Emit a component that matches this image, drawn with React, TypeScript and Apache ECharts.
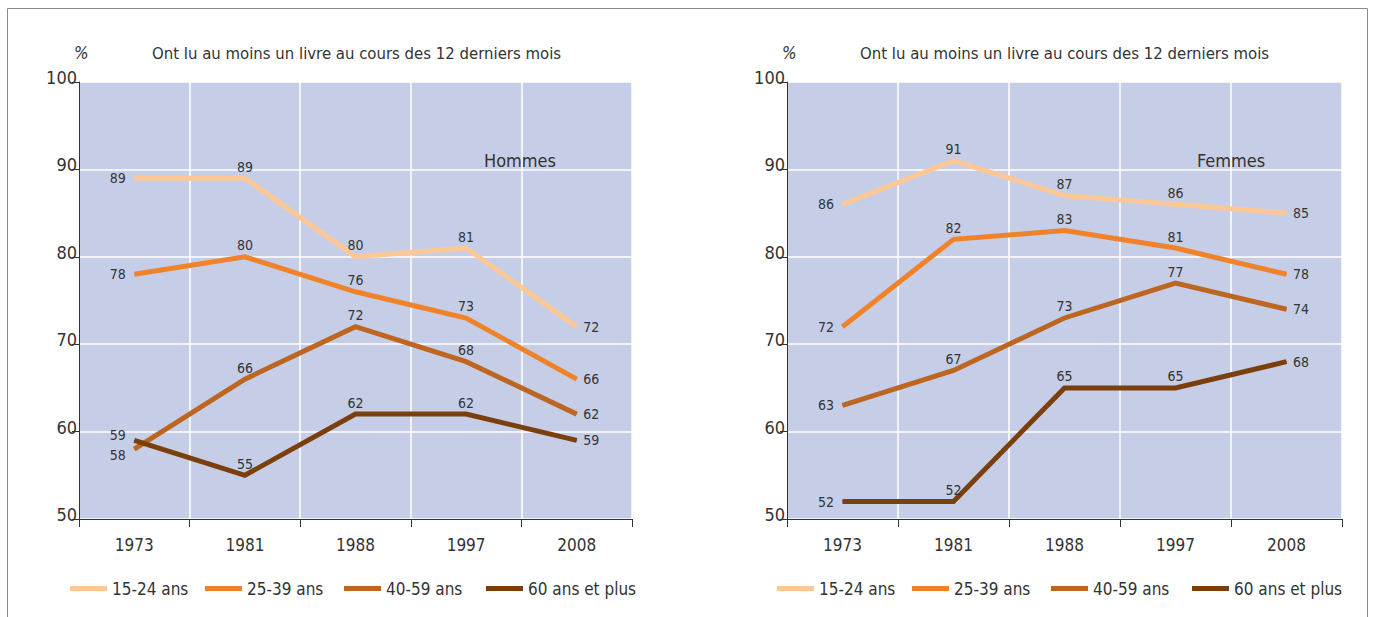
import React, { useEffect, useRef } from "react";
import * as echarts from "echarts";

const years = ["1973", "1981", "1988", "1997", "2008"];
const groups = ["15-24 ans", "25-39 ans", "40-59 ans", "60 ans et plus"];

const hommes15_24 = [89, 89, 80, 81, 72];
const hommes25_39 = [78, 80, 76, 73, 66];
const hommes40_59 = [58, 66, 72, 68, 62];
const hommes60 = [59, 55, 62, 62, 59];

const femmes15_24 = [86, 91, 87, 86, 85];
const femmes25_39 = [72, 82, 83, 81, 78];
const femmes40_59 = [63, 67, 73, 77, 74];
const femmes60 = [52, 52, 65, 65, 68];

const yTicks = [50, 60, 70, 80, 90, 100];

const titleText = "Ont lu au moins un livre au cours des 12 derniers mois";
const panelNames = ["Hommes", "Femmes"];

const COLORS = ["#fdc896", "#f0832a", "#bd6622", "#7a3f0a"];
const FONT = "'DejaVu Sans Condensed', 'Liberation Sans Narrow', sans-serif";
const TXT = "#333333";

export default function App() {
  const ref = useRef<HTMLDivElement>(null);

  useEffect(() => {
    if (!ref.current) return;
    const chart = echarts.init(ref.current, undefined, { renderer: "svg" });

    const panels = [
      { data: [hommes15_24, hommes25_39, hommes40_59, hommes60], nudge: [0, 0, 6, -5] },
      { data: [femmes15_24, femmes25_39, femmes40_59, femmes60], nudge: [0, 0, 0, 0] },
    ];
    const gridLefts = [79, 787];
    const gridWidths = [553, 555];
    const legendLefts = [
      [70, 205, 344, 486],
      [777, 912, 1051, 1192],
    ];

    const series: any[] = [];
    panels.forEach((p, pi) => {
      p.data.forEach((vals, si) => {
        series.push({
          type: "line",
          name: groups[si],
          xAxisIndex: pi,
          yAxisIndex: pi,
          symbol: "circle",
          symbolSize: 1,
          showSymbol: true,
          itemStyle: { color: COLORS[si] },
          lineStyle: { color: COLORS[si], width: 5, join: "miter", cap: "butt" },
          data: vals.map((v, i) => {
            const n = vals.length;
            let label: any;
            if (i === 0) label = { position: "left", distance: 8, offset: [0, p.nudge[si]] };
            else if (i === n - 1) label = { position: "right", distance: 6 };
            else label = { position: "top", distance: 4 };
            return { value: v, label };
          }),
          label: { show: true, fontSize: 14, color: TXT, fontFamily: FONT },
          emphasis: { disabled: true },
          z: 3,
        });
      });
    });

    const grids = gridLefts.map((l, i) => ({
      left: l,
      top: 82,
      width: gridWidths[i],
      height: 437,
      show: true,
      backgroundColor: "#c6cee7",
      borderWidth: 0,
      containLabel: false,
    }));

    const xAxes = [0, 1].map((i) => ({
      type: "category",
      gridIndex: i,
      data: years,
      boundaryGap: true,
      axisLine: { show: true, lineStyle: { color: "#333", width: 1 } },
      axisTick: { show: true, length: 8, lineStyle: { color: "#333" } },
      axisLabel: { fontSize: 17, color: TXT, fontFamily: FONT, margin: 17 },
      splitLine: { show: true, lineStyle: { color: "#ffffff", width: 1.5 } },
    }));

    const yAxes = [0, 1].map((i) => ({
      type: "value",
      gridIndex: i,
      min: yTicks[0],
      max: yTicks[yTicks.length - 1],
      interval: 10,
      axisLine: { show: true, lineStyle: { color: "#333", width: 1 } },
      axisTick: { show: true, length: 7, lineStyle: { color: "#333" } },
      axisLabel: {
        fontSize: 18,
        color: TXT,
        fontFamily: FONT,
        margin: 2,
        verticalAlign: "bottom",
        lineHeight: 9,
      },
      splitLine: { show: true, lineStyle: { color: "#ffffff", width: 1.5 } },
    }));

    const legends: any[] = [];
    legendLefts.forEach((row) => {
      row.forEach((l, gi) => {
        legends.push({
          left: l,
          top: 580,
          padding: 0,
          icon: "rect",
          itemWidth: 37,
          itemHeight: 5,
          itemGap: 0,
          data: [groups[gi]],
          textStyle: { fontSize: 17, color: TXT, fontFamily: FONT },
          selectedMode: false,
        });
      });
    });

    const graphic: any[] = [
      {
        type: "rect",
        shape: { x: 7.5, y: 8.5, width: 1360, height: 640 },
        style: { fill: "none", stroke: "#8a8a8a", lineWidth: 1 },
        silent: true,
      },
    ];
    [0, 1].forEach((i) => {
      const gl = gridLefts[i];
      graphic.push({
        type: "text",
        x: gl - 5,
        y: 53,
        style: {
          text: "%",
          fontSize: 17,
          fontStyle: "italic",
          fill: TXT,
          fontFamily: FONT,
          verticalAlign: "middle",
        },
      });
      graphic.push({
        type: "text",
        x: gl + 73,
        y: 53,
        style: { text: titleText, fontSize: 16.6, fill: TXT, fontFamily: FONT, verticalAlign: "middle" },
      });
      graphic.push({
        type: "text",
        x: gl + (i === 0 ? 441 : 444),
        y: 160,
        style: {
          text: panelNames[i],
          fontSize: 18,
          fill: TXT,
          fontFamily: FONT,
          align: "center",
          verticalAlign: "middle",
        },
        z: 10,
      });
    });

    chart.setOption({
      animation: false,
      backgroundColor: "#ffffff",
      grid: grids,
      xAxis: xAxes,
      yAxis: yAxes,
      legend: legends,
      series,
      graphic,
    });

    return () => chart.dispose();
  }, []);

  return (
    <div
      ref={ref}
      style={{ position: "fixed", left: 0, top: 0, width: 1373, height: 617 }}
    />
  );
}
